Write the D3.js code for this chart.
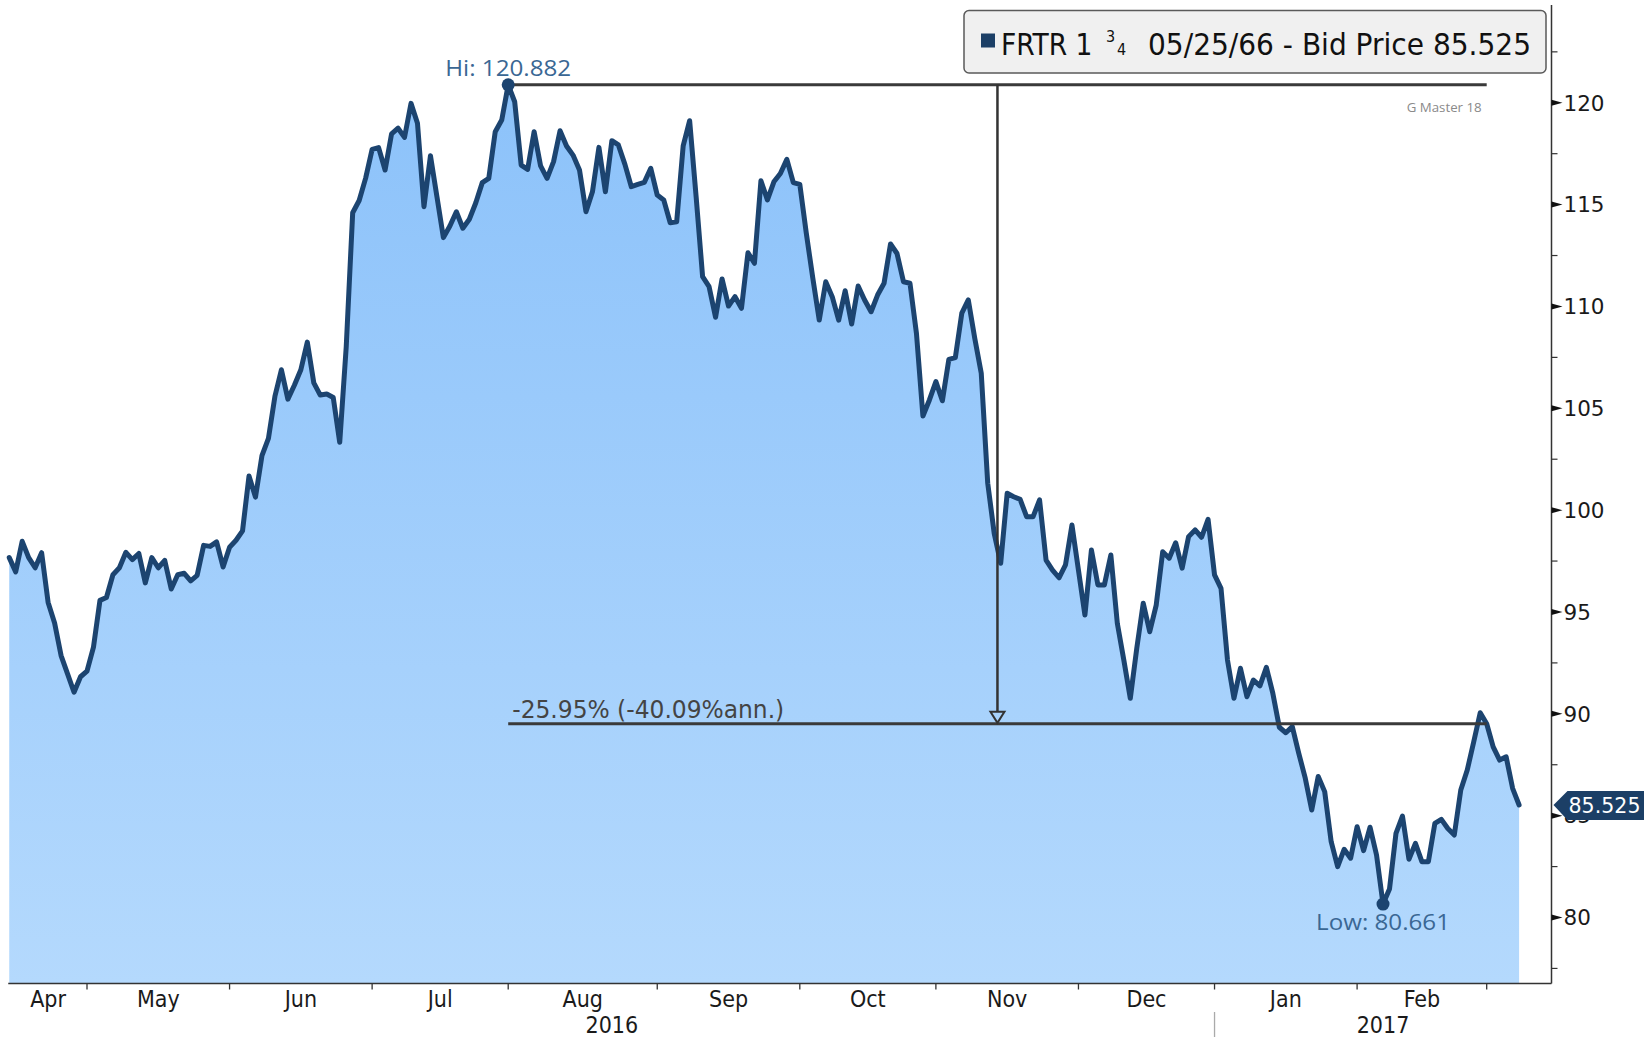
<!DOCTYPE html>
<html><head><meta charset="utf-8">
<script src="https://cdn.jsdelivr.net/npm/d3@7"></script>
<style>html,body{margin:0;padding:0;background:#fff;overflow:hidden}svg{display:block}</style>
</head><body>
<svg id="chart" width="1644" height="1037"></svg>
<script>
// ---- data (trading-day index = position in the array, starting 14 Apr 2016) ----
const prices = [
97.67,96.97,98.47,97.67,97.17,97.91,95.47,94.46,92.86,91.96,
91.06,91.82,92.10,93.27,95.57,95.71,96.83,97.17,97.93,97.57,
97.87,96.43,97.67,97.17,97.53,96.13,96.83,96.90,96.53,96.80,
98.27,98.22,98.44,97.21,98.18,98.52,98.98,101.68,100.64,102.68,
103.52,105.59,106.89,105.45,106.13,106.89,108.25,106.25,105.65,105.70,
105.53,103.33,108.00,114.60,115.20,116.30,117.71,117.80,116.70,118.47,
118.75,118.30,119.97,118.99,114.90,117.40,115.39,113.38,113.95,114.65,
113.84,114.28,115.09,116.08,116.29,118.58,119.15,120.882,120.05,116.94,
116.73,118.58,116.90,116.29,117.11,118.63,117.88,117.43,116.70,114.65,
115.63,117.81,115.63,118.14,117.93,116.99,115.88,115.99,116.09,116.78,
115.47,115.23,114.11,114.16,117.88,119.12,115.39,111.46,110.97,109.47,
111.35,110.02,110.48,109.91,112.64,112.12,116.17,115.23,116.12,116.53,
117.22,116.08,115.99,113.60,111.40,109.33,111.21,110.48,109.33,110.77,
109.14,111.00,110.32,109.74,110.56,111.14,113.07,112.60,111.21,111.14,
108.68,104.62,105.41,106.31,105.37,107.40,107.49,109.67,110.32,108.43,
106.72,101.32,98.86,97.39,100.83,100.66,100.53,99.68,99.68,100.50,
97.55,97.06,96.68,97.31,99.27,97.06,94.85,98.04,96.33,96.33,
97.80,94.44,92.64,90.76,93.22,95.43,94.03,95.34,97.96,97.64,
98.40,97.15,98.70,99.03,98.67,99.55,96.82,96.16,92.64,90.76,
92.24,90.84,91.66,91.37,92.28,91.00,89.34,89.07,89.37,88.06,
86.84,85.28,86.92,86.18,83.72,82.50,83.35,82.91,84.46,83.28,
84.43,83.07,80.661,81.40,84.13,84.98,82.86,83.64,82.74,82.74,
84.62,84.82,84.37,84.05,86.26,87.24,88.63,90.05,89.51,88.38,
87.73,87.89,86.34,85.525];
const totalDays = 238;                       // axis extent in trading days
const monthBounds = [0,12,34,56,77,100,122,143,165,186,208,228];
const monthLabels = ["Apr","May","Jun","Jul","Aug","Sep","Oct","Nov","Dec","Jan","Feb"];
const yearBounds = [0,186,238];
const yearLabels = ["2016","2017"];
const yMajorTicks = [80,85,90,95,100,105,110,115,120];
const yMinorTicks = [77.5,82.5,87.5,92.5,97.5,102.5,107.5,112.5,117.5,122.5];
const measureEndDay = 228;
const legendName = "FRTR 1";
const legendFracNum = "3", legendFracDen = "4";
const legendRest = "05/25/66 - Bid Price 85.525";
const changeLabel = "-25.95% (-40.09%ann.)";
const lastLabel = "85.525";
const watermark = "G Master 18";

// ---- layout ----
const plot = {left: 9.24, right: 1551.5, top: 5, bottom: 983.5};
const navy = "#1c4470";
const svg = d3.select("#chart");
const x = d3.scaleLinear().domain([0, totalDays]).range([plot.left, plot.right]);
const y = d3.scaleLinear().domain([76.76, 124.8]).range([plot.bottom, plot.top]);
const series = prices.map((v, i) => ({d: i, v}));

const defs = svg.append("defs");
const grad = defs.append("linearGradient").attr("id","fillGrad")
  .attr("gradientUnits","userSpaceOnUse").attr("x1",0).attr("x2",0)
  .attr("y1", y(121)).attr("y2", plot.bottom);
grad.append("stop").attr("offset","0%").attr("stop-color","#8cc2fa");
grad.append("stop").attr("offset","100%").attr("stop-color","#b4d9fd");

// area + line
svg.append("path").datum(series)
  .attr("d", d3.area().x(d => x(d.d)).y0(plot.bottom).y1(d => y(d.v)))
  .attr("fill","url(#fillGrad)");
svg.append("path").datum(series)
  .attr("d", d3.line().x(d => x(d.d)).y(d => y(d.v)))
  .attr("fill","none").attr("stroke",navy).attr("stroke-width",5)
  .attr("stroke-linejoin","round").attr("stroke-linecap","round");

// axes lines
svg.append("line").attr("x1", plot.left-1).attr("x2", plot.right)
  .attr("y1", plot.bottom).attr("y2", plot.bottom).attr("stroke","#333").attr("stroke-width",1.5);
svg.append("line").attr("x1", plot.right).attr("x2", plot.right)
  .attr("y1", plot.top).attr("y2", plot.bottom).attr("stroke","#333").attr("stroke-width",1.5);

// y ticks
svg.selectAll(".ymin").data(yMinorTicks).join("line")
  .attr("x1", plot.right).attr("x2", plot.right+6)
  .attr("y1", d => y(d)).attr("y2", d => y(d)).attr("stroke","#333").attr("stroke-width",1.2);
svg.selectAll(".ymaj").data(yMajorTicks).join("path")
  .attr("d", d => `M${plot.right},${y(d)-3}L${plot.right+11},${y(d)}L${plot.right},${y(d)+3}Z`)
  .attr("fill","#111");
svg.selectAll(".ylab").data(yMajorTicks).join("text")
  .attr("x", plot.right+12).attr("y", d => y(d)).attr("dy","0.36em")
  .attr("font-family","DejaVu Sans").attr("font-size",21.5).attr("fill","#1a1a1a")
  .text(d => d);

// x ticks (month starts)
svg.selectAll(".xt").data(monthBounds.slice(1)).join("line")
  .attr("x1", d => x(d)).attr("x2", d => x(d))
  .attr("y1", plot.bottom).attr("y2", plot.bottom+6).attr("stroke","#333").attr("stroke-width",1.3);
const condensed = "'DejaVu Sans Condensed','DejaVu Sans'";
svg.selectAll(".xl").data(monthLabels).join("text")
  .attr("x", (d,i) => (x(monthBounds[i]) + x(monthBounds[i+1]))/2)
  .attr("y", 1006.5).attr("text-anchor","middle")
  .attr("font-family", condensed).attr("font-stretch","condensed")
  .attr("font-size",23).attr("fill","#1a1a1a").text(d => d);
svg.selectAll(".yl").data(yearLabels).join("text")
  .attr("x", (d,i) => (x(yearBounds[i]) + x(yearBounds[i+1]))/2)
  .attr("y", 1032.5).attr("text-anchor","middle")
  .attr("font-family", condensed).attr("font-stretch","condensed")
  .attr("font-size",23).attr("fill","#1a1a1a").text(d => d);
svg.append("line").attr("x1", x(yearBounds[1])).attr("x2", x(yearBounds[1]))
  .attr("y1", 1012).attr("y2", 1037).attr("stroke","#aaa").attr("stroke-width",1.3);

// hi / low / measurement
const hiI = d3.maxIndex(prices), loI = d3.minIndex(prices);
const level = prices[measureEndDay];
const xA = x(hiI), xB = x(measureEndDay), xM = (xA + xB)/2;
const yHi = y(prices[hiI]), yLv = y(level);
svg.append("line").attr("x1", xA).attr("x2", xB).attr("y1", yHi).attr("y2", yHi)
  .attr("stroke","#3a3a3a").attr("stroke-width",3);
svg.append("line").attr("x1", xA).attr("x2", xB).attr("y1", yLv).attr("y2", yLv)
  .attr("stroke","#3a3a3a").attr("stroke-width",3);
svg.append("line").attr("x1", xM).attr("x2", xM).attr("y1", yHi).attr("y2", yLv-12)
  .attr("stroke","#333").attr("stroke-width",2.5);
svg.append("path").attr("d", `M${xM-7},${yLv-12}L${xM+7},${yLv-12}L${xM},${yLv-1}Z`)
  .attr("fill","none").attr("stroke","#333").attr("stroke-width",2);
svg.append("text").attr("x", xA+4).attr("y", yLv-6)
  .attr("font-family","DejaVu Sans").attr("font-size",24).attr("fill","#444")
  .attr("textLength",272).attr("lengthAdjust","spacingAndGlyphs").text(changeLabel);

[hiI, loI].forEach(i => {
  svg.append("circle").attr("cx", x(i)).attr("cy", y(prices[i])).attr("r",6.5).attr("fill",navy);
});
svg.append("text").attr("x", xA).attr("y", yHi-8.5).attr("text-anchor","middle")
  .attr("font-family","Open Sans").attr("font-size",22).attr("fill","#3a6794")
  .attr("textLength",126).attr("lengthAdjust","spacingAndGlyphs")
  .text("Hi: " + d3.format(".3f")(prices[hiI]));
svg.append("text").attr("x", x(loI)).attr("y", y(prices[loI])+26).attr("text-anchor","middle")
  .attr("font-family","Open Sans").attr("font-size",22).attr("fill","#3a6794")
  .attr("textLength",134).attr("lengthAdjust","spacingAndGlyphs")
  .text("Low: " + d3.format(".3f")(prices[loI]));

// watermark
svg.append("text").attr("x", xB-5).attr("y", 112).attr("text-anchor","end")
  .attr("font-family","Open Sans").attr("font-size",12.5).attr("fill","#8a8a8a")
  .attr("textLength",75).attr("lengthAdjust","spacingAndGlyphs").text(watermark);

// last value tag
const last = prices[prices.length-1], yL = y(last);
svg.append("path")
  .attr("d", `M${plot.right+2},${yL}L${plot.right+16},${yL-14}L1644,${yL-14}L1644,${yL+15}L${plot.right+16},${yL+15}Z`)
  .attr("fill","#1c3f66");
svg.append("text").attr("x", plot.right+17).attr("y", yL).attr("dy","0.36em")
  .attr("font-family","DejaVu Sans").attr("font-size",21.5).attr("fill","#fff")
  .attr("textLength",72).attr("lengthAdjust","spacingAndGlyphs").text(lastLabel);

// legend
const lg = svg.append("g");
lg.append("rect").attr("x",964).attr("y",10.5).attr("width",582).attr("height",62.5)
  .attr("rx",5).attr("fill","#f0f0f0").attr("stroke","#5a5a5a").attr("stroke-width",1.5);
lg.append("rect").attr("x",981).attr("y",33.5).attr("width",14).attr("height",14).attr("fill","#1c3f66");
lg.append("text").attr("x",1001).attr("y",54.5).attr("font-family",condensed)
  .attr("font-size",30).attr("fill","#111").attr("textLength",91.5)
  .attr("lengthAdjust","spacingAndGlyphs").text(legendName);
lg.append("text").attr("x",1106).attr("y",42).attr("font-family",condensed)
  .attr("font-size",16).attr("fill","#111").text(legendFracNum);
lg.append("text").attr("x",1117).attr("y",54.5).attr("font-family",condensed)
  .attr("font-size",16).attr("fill","#111").text(legendFracDen);
lg.append("text").attr("x",1148).attr("y",54.5).attr("font-family",condensed)
  .attr("font-size",30).attr("fill","#111").attr("textLength",383)
  .attr("lengthAdjust","spacingAndGlyphs").text(legendRest);
</script>
</body></html>
